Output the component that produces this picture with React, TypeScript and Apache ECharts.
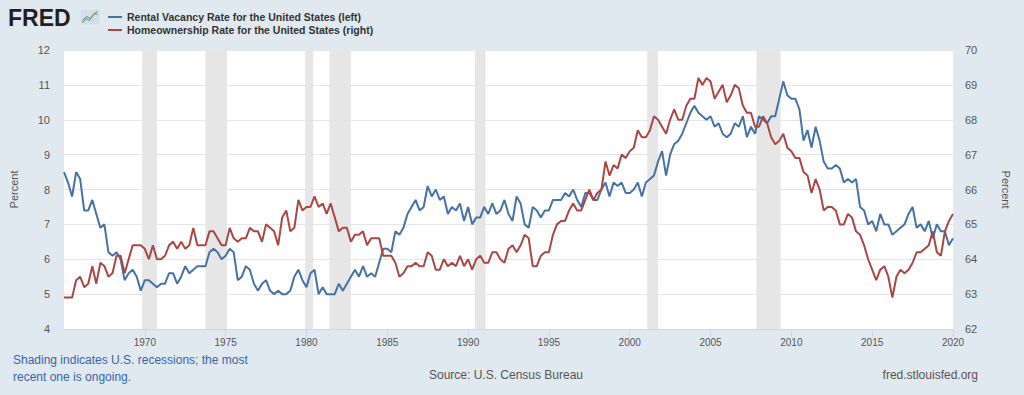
import React, { useEffect, useRef } from "react";
import * as echarts from "echarts";

// Quarterly observations, starting 1965 Q1
const startYear = 1965;

// Rental Vacancy Rate for the United States (percent, left axis)
const rentalVacancy = [
  8.5, 8.2, 7.8, 8.5, // 1965
  8.3, 7.4, 7.4, 7.7, // 1966
  7.3, 6.9, 7.0, 6.2, // 1967
  6.1, 6.2, 6.0, 5.4, // 1968
  5.6, 5.7, 5.5, 5.1, // 1969
  5.4, 5.4, 5.3, 5.2, // 1970
  5.3, 5.3, 5.6, 5.6, // 1971
  5.3, 5.5, 5.8, 5.6, // 1972
  5.7, 5.8, 5.8, 5.8, // 1973
  6.2, 6.3, 6.2, 6.0, // 1974
  6.1, 6.3, 6.2, 5.4, // 1975
  5.5, 5.8, 5.7, 5.3, // 1976
  5.1, 5.3, 5.4, 5.1, // 1977
  5.0, 5.1, 5.0, 5.0, // 1978
  5.1, 5.5, 5.7, 5.4, // 1979
  5.2, 5.6, 5.7, 5.0, // 1980
  5.2, 5.0, 5.0, 5.0, // 1981
  5.3, 5.1, 5.3, 5.5, // 1982
  5.7, 5.5, 5.8, 5.5, // 1983
  5.6, 5.5, 5.9, 6.3, // 1984
  6.3, 6.2, 6.8, 6.7, // 1985
  6.9, 7.3, 7.5, 7.7, // 1986
  7.4, 7.5, 8.1, 7.8, // 1987
  8.0, 7.7, 7.8, 7.3, // 1988
  7.5, 7.4, 7.6, 7.1, // 1989
  7.5, 7.0, 7.2, 7.2, // 1990
  7.5, 7.3, 7.6, 7.3, // 1991
  7.4, 7.7, 7.3, 7.1, // 1992
  7.8, 7.6, 7.0, 6.9, // 1993
  7.5, 7.4, 7.2, 7.4, // 1994
  7.4, 7.7, 7.7, 7.7, // 1995
  7.9, 7.8, 8.0, 7.7, // 1996
  7.5, 7.9, 7.9, 7.7, // 1997
  7.7, 8.0, 8.2, 7.8, // 1998
  8.2, 8.1, 8.2, 7.9, // 1999
  7.9, 8.0, 8.2, 7.8, // 2000
  8.2, 8.3, 8.4, 8.8, // 2001
  9.1, 8.4, 9.0, 9.3, // 2002
  9.4, 9.6, 9.9, 10.2, // 2003
  10.4, 10.2, 10.1, 10.0, // 2004
  10.1, 9.8, 9.9, 9.6, // 2005
  9.5, 9.6, 9.9, 9.8, // 2006
  10.1, 9.5, 9.8, 9.6, // 2007
  10.1, 10.0, 9.9, 10.1, // 2008
  10.1, 10.6, 11.1, 10.7, // 2009
  10.6, 10.6, 10.3, 9.4, // 2010
  9.7, 9.2, 9.8, 9.4, // 2011
  8.8, 8.6, 8.6, 8.7, // 2012
  8.6, 8.2, 8.3, 8.2, // 2013
  8.3, 7.5, 7.4, 7.0, // 2014
  7.1, 6.8, 7.3, 7.0, // 2015
  7.0, 6.7, 6.8, 6.9, // 2016
  7.0, 7.3, 7.5, 6.9, // 2017
  7.0, 6.8, 7.1, 6.6, // 2018
  7.0, 6.8, 6.8, 6.4, // 2019
  6.6, // 2020
];

// Homeownership Rate for the United States (percent, right axis)
const homeownership = [
  62.9, 62.9, 62.9, 63.4, // 1965
  63.5, 63.2, 63.3, 63.8, // 1966
  63.3, 63.9, 63.8, 63.5, // 1967
  63.6, 64.1, 64.1, 63.6, // 1968
  64.0, 64.4, 64.4, 64.4, // 1969
  64.3, 64.0, 64.4, 64.0, // 1970
  64.0, 64.1, 64.4, 64.5, // 1971
  64.3, 64.5, 64.3, 64.4, // 1972
  64.9, 64.4, 64.4, 64.4, // 1973
  64.8, 64.8, 64.6, 64.4, // 1974
  64.4, 64.9, 64.6, 64.5, // 1975
  64.6, 64.6, 64.9, 64.8, // 1976
  64.8, 64.5, 65.0, 64.9, // 1977
  64.8, 64.4, 65.2, 65.4, // 1978
  64.8, 64.9, 65.7, 65.4, // 1979
  65.5, 65.5, 65.8, 65.5, // 1980
  65.6, 65.3, 65.6, 65.2, // 1981
  64.8, 64.9, 64.9, 64.5, // 1982
  64.7, 64.7, 64.8, 64.4, // 1983
  64.6, 64.6, 64.6, 64.1, // 1984
  64.1, 64.1, 63.9, 63.5, // 1985
  63.6, 63.8, 63.8, 63.9, // 1986
  63.8, 63.8, 64.2, 64.1, // 1987
  63.7, 63.7, 64.0, 63.8, // 1988
  63.9, 63.8, 64.1, 63.8, // 1989
  64.0, 63.7, 64.0, 64.1, // 1990
  63.9, 63.9, 64.2, 64.2, // 1991
  64.0, 63.9, 64.3, 64.4, // 1992
  64.2, 64.4, 64.7, 64.6, // 1993
  63.8, 63.8, 64.1, 64.2, // 1994
  64.2, 64.7, 65.0, 65.1, // 1995
  65.1, 65.4, 65.6, 65.4, // 1996
  65.4, 65.7, 66.0, 65.7, // 1997
  65.9, 66.0, 66.8, 66.4, // 1998
  66.7, 66.6, 67.0, 66.9, // 1999
  67.1, 67.2, 67.7, 67.5, // 2000
  67.5, 67.7, 68.1, 68.0, // 2001
  67.8, 67.6, 68.0, 68.3, // 2002
  68.0, 68.0, 68.4, 68.6, // 2003
  68.6, 69.2, 69.0, 69.2, // 2004
  69.1, 68.6, 68.8, 69.0, // 2005
  68.5, 68.7, 69.0, 68.9, // 2006
  68.4, 68.2, 68.2, 67.8, // 2007
  67.8, 68.1, 67.9, 67.5, // 2008
  67.3, 67.4, 67.6, 67.2, // 2009
  67.1, 66.9, 66.9, 66.5, // 2010
  66.4, 65.9, 66.3, 66.0, // 2011
  65.4, 65.5, 65.5, 65.4, // 2012
  65.0, 65.0, 65.3, 65.2, // 2013
  64.8, 64.7, 64.4, 64.0, // 2014
  63.7, 63.4, 63.7, 63.8, // 2015
  63.5, 62.9, 63.5, 63.7, // 2016
  63.6, 63.7, 63.9, 64.2, // 2017
  64.2, 64.3, 64.4, 64.8, // 2018
  64.2, 64.1, 64.8, 65.1, // 2019
  65.3, // 2020
];

// NBER recessions (decimal years: start, end)
const recessions: [number, number][] = [
  [1969.833, 1970.75],
  [1973.75, 1975.083],
  [1979.917, 1980.417],
  [1981.417, 1982.75],
  [1990.417, 1991.083],
  [2001.083, 2001.75],
  [2007.833, 2009.333],
];

const seriesNames = [
  "Rental Vacancy Rate for the United States (left)",
  "Homeownership Rate for the United States (right)",
];

const FONT = "'Liberation Sans', Arial, Helvetica, sans-serif";
const BLUE = "#4572a7";
const RED = "#aa4643";

const toPoints = (vals: number[]) =>
  vals.map((v, i) => [startYear + i / 4, v]);

export default function App() {
  const ref = useRef<HTMLDivElement>(null);

  useEffect(() => {
    document.body.style.margin = "0";
    if (!ref.current) return;
    const chart = echarts.init(ref.current, undefined, { renderer: "svg" });

    const option: any = {
      animation: false,
      backgroundColor: "#e1e9f0",
      textStyle: { fontFamily: FONT },
      grid: {
        left: 62,
        right: 71,
        top: 50,
        bottom: 66,
        show: true,
        backgroundColor: "#ffffff",
        borderWidth: 0,
      },
      xAxis: {
        type: "value",
        min: 1965,
        max: 2020,
        interval: 5,
        axisLine: { show: true, lineStyle: { color: "#ccd6eb", width: 1 } },
        axisTick: { show: true, length: 8, lineStyle: { color: "#ccd6eb" } },
        axisLabel: {
          showMinLabel: false,
          color: "#555",
          fontSize: 10,
          margin: 8,
          fontFamily: FONT,
          formatter: (v: number) => String(v),
        },
        splitLine: { show: false },
      },
      yAxis: [
        {
          type: "value",
          min: 4,
          max: 12,
          interval: 1,
          position: "left",
          name: "Percent",
          nameLocation: "middle",
          nameGap: 45,
          nameRotate: 90,
          nameTextStyle: { color: "#555", fontSize: 11, fontFamily: FONT },
          axisLine: { show: false },
          axisTick: { show: false },
          axisLabel: { color: "#555", fontSize: 11, margin: 14, fontFamily: FONT },
          splitLine: { show: true, lineStyle: { color: "#e6e6e6", width: 1 } },
        },
        {
          type: "value",
          min: 62,
          max: 70,
          interval: 1,
          position: "right",
          name: "Percent",
          nameLocation: "middle",
          nameGap: 47,
          nameRotate: -90,
          nameTextStyle: { color: "#555", fontSize: 11, fontFamily: FONT },
          axisLine: { show: false },
          axisTick: { show: false },
          axisLabel: { color: "#555", fontSize: 11, margin: 12, fontFamily: FONT },
          splitLine: { show: false },
        },
      ],
      series: [
        {
          type: "line",
          name: "recessions",
          data: [],
          silent: true,
          z: 1,
          markArea: {
            silent: true,
            itemStyle: { color: "#e6e6e6" },
            data: recessions.map(([a, b]) => [{ xAxis: a }, { xAxis: b }]),
          },
        },
        {
          type: "line",
          name: seriesNames[0],
          yAxisIndex: 0,
          data: toPoints(rentalVacancy),
          showSymbol: false,
          symbol: "none",
          z: 3,
          lineStyle: { color: BLUE, width: 2 },
          itemStyle: { color: BLUE },
        },
        {
          type: "line",
          name: seriesNames[1],
          yAxisIndex: 1,
          data: toPoints(homeownership),
          showSymbol: false,
          symbol: "none",
          z: 3,
          lineStyle: { color: RED, width: 2 },
          itemStyle: { color: RED },
        },
      ],
      graphic: [
        {
          type: "text",
          left: 8,
          top: 6,
          style: {
            text: "FRED",
            fontFamily: FONT,
            fontWeight: "bold",
            fontSize: 23,
            fill: "#231f20",
          },
        },
        {
          type: "group",
          left: 80,
          top: 9,
          children: [
            { type: "rect", shape: { x: 0, y: 0, width: 19, height: 15, r: 2 }, style: { fill: "#d5dee8" } },
            {
              type: "polyline",
              shape: { points: [[2, 13], [6, 9], [9, 11], [13, 5], [17, 2]] },
              style: { stroke: "#7cb342", lineWidth: 1.2, fill: "none" },
            },
            {
              type: "polyline",
              shape: { points: [[2, 11], [6, 7], [10, 9], [14, 4], [17, 5]] },
              style: { stroke: "#5b8bc4", lineWidth: 1, fill: "none" },
            },
          ],
        },
        {
          type: "line",
          shape: { x1: 108, y1: 17, x2: 122, y2: 17 },
          style: { stroke: BLUE, lineWidth: 2 },
        },
        {
          type: "text",
          left: 127,
          top: 11,
          style: {
            text: seriesNames[0],
            fontFamily: FONT,
            fontWeight: "bold",
            fontSize: 10.5,
            fill: "#333",
          },
        },
        {
          type: "line",
          shape: { x1: 108, y1: 30, x2: 122, y2: 30 },
          style: { stroke: RED, lineWidth: 2 },
        },
        {
          type: "text",
          left: 127,
          top: 24,
          style: {
            text: seriesNames[1],
            fontFamily: FONT,
            fontWeight: "bold",
            fontSize: 10.5,
            fill: "#333",
          },
        },
        {
          type: "text",
          left: 13,
          top: 351,
          style: {
            text: "Shading indicates U.S. recessions; the most\nrecent one is ongoing.",
            fontFamily: FONT,
            fontSize: 12,
            lineHeight: 17,
            fill: "#3a63a8",
          },
        },
        {
          type: "text",
          x: 506,
          y: 375,
          style: {
            text: "Source: U.S. Census Bureau",
            fontFamily: FONT,
            fontSize: 12,
            fill: "#555",
            align: "center",
            verticalAlign: "middle",
          },
        },
        {
          type: "text",
          x: 978,
          y: 375,
          style: {
            text: "fred.stlouisfed.org",
            fontFamily: FONT,
            fontSize: 12,
            fill: "#555",
            align: "right",
            verticalAlign: "middle",
          },
        },
      ],
    };

    chart.setOption(option);
    return () => chart.dispose();
  }, []);

  return <div ref={ref} style={{ width: 1024, height: 395 }} />;
}
